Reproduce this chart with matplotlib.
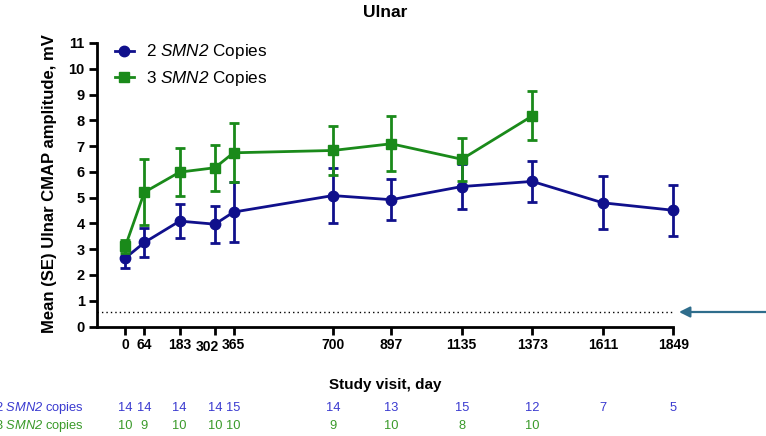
import matplotlib
matplotlib.use("Agg")
import matplotlib.pyplot as plt
from matplotlib.lines import Line2D
from matplotlib.transforms import blended_transform_factory, offset_copy

# --- data -----------------------------------------------------------------
visit_days = [0, 64, 183, 302, 365, 700, 897, 1135, 1373, 1611, 1849]

days_2copies = [0, 64, 183, 302, 365, 700, 897, 1135, 1373, 1611, 1849]
mean_2copies = [2.66, 3.26, 4.09, 3.97, 4.44, 5.08, 4.92, 5.43, 5.63, 4.80, 4.51]
se_2copies = [0.40, 0.58, 0.67, 0.72, 1.18, 1.07, 0.80, 0.88, 0.78, 1.03, 0.98]
n_2copies = [14, 14, 14, 14, 15, 14, 13, 15, 12, 7, 5]

days_3copies = [0, 64, 183, 302, 365, 700, 897, 1135, 1373]
mean_3copies = [3.12, 5.21, 5.99, 6.16, 6.74, 6.83, 7.09, 6.49, 8.17]
se_3copies = [0.25, 1.28, 0.93, 0.90, 1.15, 0.95, 1.06, 0.84, 0.95]
n_3copies = [10, 9, 10, 10, 10, 9, 10, 8, 10]

threshold = 0.58
shifted_label_day = 302   # this tick label sits lower-left to clear its neighbour

# --- style ----------------------------------------------------------------
plt.rcParams["font.family"] = ["Liberation Sans", "DejaVu Sans"]
plt.rcParams["mathtext.fontset"] = "custom"
plt.rcParams["mathtext.rm"] = "Liberation Sans:italic"
plt.rcParams["mathtext.it"] = "Liberation Sans:italic"
plt.rcParams["mathtext.bf"] = "Liberation Sans:bold"

blue = "#10108c"
green = "#1a8a1a"
row_blue = "#3a3ad0"
row_green = "#3a9a2a"

fig = plt.figure(figsize=(7.66, 4.36), dpi=100)
ax = fig.add_axes([0.1262, 0.2511, 0.879 - 0.1262, 0.9014 - 0.2511])

eb2 = ax.errorbar(days_2copies, mean_2copies, yerr=se_2copies, color=blue, lw=2.0,
                  marker="o", ms=7.5, elinewidth=2.0, capsize=3.5, capthick=2.0,
                  zorder=3)
eb3 = ax.errorbar(days_3copies, mean_3copies, yerr=se_3copies, color=green, lw=2.0,
                  marker="s", ms=7, elinewidth=2.0, capsize=3.5, capthick=2.0,
                  zorder=4)
for eb in (eb2, eb3):
    for art in eb.get_children():
        art.set_clip_on(False)

ax.axhline(threshold, color="black", lw=1.0, ls=(0, (1, 2.2)), zorder=1)

ax.set_xlim(-97, 1849)
ax.set_ylim(0, 11)
ax.set_yticks(range(0, 12))
ax.set_xticks(visit_days)
ax.set_xticklabels(["" if d == shifted_label_day else str(d) for d in visit_days],
                   fontsize=10, fontweight="bold")
ax.set_yticklabels([str(v) for v in range(0, 12)], fontsize=10.5,
                   fontweight="bold")

# the crowded tick label, nudged down and to the left
lab_tr = offset_copy(blended_transform_factory(ax.transData, ax.transAxes),
                     fig=fig, x=-8, y=-20.5, units="dots")
ax.text(shifted_label_day, 0, str(shifted_label_day), transform=lab_tr,
        ha="center", va="center", fontsize=10, fontweight="bold",
        clip_on=False)

for s in ("top", "right"):
    ax.spines[s].set_visible(False)
for s in ("left", "bottom"):
    ax.spines[s].set_linewidth(2.0)
ax.tick_params(axis="both", direction="out", length=6, width=2.0, pad=2.5)

ax.set_ylabel("Mean (SE) Ulnar CMAP amplitude, mV", fontsize=12,
              fontweight="bold")
ax.yaxis.set_label_coords(-0.069, 0.505)
ax.set_title("Ulnar", fontsize=12.5, fontweight="bold", pad=19)

handles = [
    Line2D([], [], color=blue, lw=2.0, marker="o", ms=7.5),
    Line2D([], [], color=green, lw=2.0, marker="s", ms=7),
]
ax.legend(handles, [r"2 $SMN2$ Copies", r"3 $SMN2$ Copies"],
          loc="upper left", bbox_to_anchor=(0.005, 1.056), frameon=False,
          fontsize=12.3, handlelength=1.1, handletextpad=0.7,
          labelspacing=0.45)

fig.text(0.5027, 0.117, "Study visit, day", ha="center", va="center",
         fontsize=11, fontweight="bold")

# participant counts under the axis
tr = blended_transform_factory(ax.transData, fig.transFigure)
y_row2, y_row3 = 1 - 408 / 436, 1 - 426 / 436
fig.text(0.110, y_row2, r"2 $SMN2$ copies", ha="right", va="center",
         fontsize=9.3, color=row_blue)
fig.text(0.110, y_row3, r"3 $SMN2$ copies", ha="right", va="center",
         fontsize=9.3, color=row_green)
for d, n in zip(days_2copies, n_2copies):
    ax.text(d, y_row2, str(n), transform=tr, ha="center", va="center",
            fontsize=9.3, color=row_blue, clip_on=False)
for d, n in zip(days_3copies, n_3copies):
    ax.text(d, y_row3, str(n), transform=tr, ha="center", va="center",
            fontsize=9.3, color=row_green, clip_on=False)

# arrow pointing at the threshold line
ya = 1 - 312 / 436
ax.annotate("", xy=(679 / 766, ya), xytext=(1.0, ya),
            xycoords="figure fraction", textcoords="figure fraction",
            arrowprops=dict(arrowstyle="-|>", color="#2f6d8c", lw=1.6,
                            mutation_scale=16, shrinkA=0, shrinkB=0))

fig.savefig("out.png", dpi=100)
